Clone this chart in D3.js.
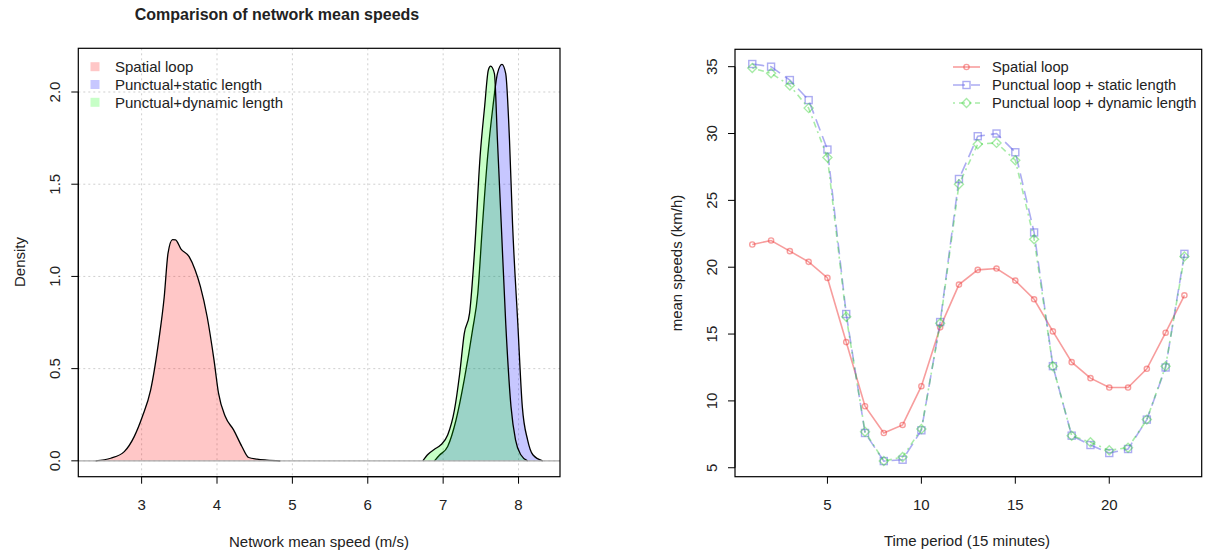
<!DOCTYPE html>
<html>
<head>
<meta charset="utf-8">
<script src="https://cdn.jsdelivr.net/npm/d3@7"></script>
<style>
  body { margin: 0; background: #fff; }
  text { font-family: "Liberation Sans", Arial, sans-serif; fill: #222; }
</style>
</head>
<body>
<div id="chart"></div>
<script>
// ---- left plot: kernel densities ----
const spatialX = [2.39, 2.59, 2.77, 2.90, 3.01, 3.12, 3.23, 3.30, 3.35, 3.41, 3.45, 3.52, 3.63, 3.71, 3.78, 3.87, 3.96, 4.02, 4.11, 4.22, 4.33, 4.42, 4.53, 4.66, 4.84];
const spatialD = [0, 0.014, 0.05, 0.13, 0.24, 0.385, 0.66, 0.89, 1.125, 1.20, 1.198, 1.15, 1.107, 1.035, 0.945, 0.78, 0.547, 0.367, 0.24, 0.168, 0.078, 0.018, 0.009, 0.004, 0];

const staticX = [6.885, 6.95, 7.06, 7.17, 7.28, 7.39, 7.46, 7.52, 7.59, 7.66, 7.72, 7.78, 7.83, 7.88, 7.92, 7.99, 8.05, 8.12, 8.19, 8.32];
const staticD = [0, 0.03, 0.078, 0.22, 0.44, 0.71, 0.91, 1.27, 1.65, 1.92, 2.10, 2.15, 2.10, 1.74, 1.29, 0.746, 0.294, 0.114, 0.033, 0];

const dynamicX = [6.73, 6.80, 6.885, 6.97, 7.06, 7.15, 7.22, 7.28, 7.35, 7.42, 7.49, 7.55, 7.60, 7.63, 7.68, 7.72, 7.77, 7.83, 7.90, 7.96, 8.03, 8.12];
const dynamicD = [0, 0.036, 0.063, 0.087, 0.14, 0.276, 0.475, 0.69, 0.80, 1.16, 1.65, 1.92, 2.12, 2.14, 2.10, 1.74, 1.29, 0.746, 0.294, 0.114, 0.033, 0];

const densNames = ["Spatial loop", "Punctual+static length", "Punctual+dynamic length"];
const densX = [spatialX, staticX, dynamicX];
const densY = [spatialD, staticD, dynamicD];
const speedTicks = [3, 4, 5, 6, 7, 8];
const densTicks = [0, 0.5, 1, 1.5, 2];

// ---- right plot: mean speeds per time period ----
const periods = [1, 2, 3, 4, 5, 6, 7, 8, 9, 10, 11, 12, 13, 14, 15, 16, 17, 18, 19, 20, 21, 22, 23, 24];
const spatialLoop = [21.7, 22.0, 21.2, 20.4, 19.2, 14.4, 9.6, 7.6, 8.2, 11.1, 15.5, 18.7, 19.8, 19.9, 19.0, 17.6, 15.2, 12.9, 11.7, 11.0, 11.0, 12.4, 15.1, 17.9];
const staticLength = [35.2, 35.0, 34.0, 32.5, 28.8, 16.5, 7.6, 5.5, 5.6, 7.8, 15.9, 26.6, 29.8, 30.0, 28.6, 22.6, 12.6, 7.4, 6.7, 6.1, 6.4, 8.6, 12.5, 21.0];
const dynamicLength = [34.9, 34.5, 33.6, 31.9, 28.2, 16.3, 7.7, 5.5, 5.8, 7.9, 15.8, 26.2, 29.2, 29.3, 28.0, 22.1, 12.6, 7.4, 6.9, 6.3, 6.5, 8.6, 12.6, 20.8];
const lineNames = ["Spatial loop", "Punctual loop + static length", "Punctual loop + dynamic length"];
const periodTicks = [5, 10, 15, 20];
const speedKmhTicks = [5, 10, 15, 20, 25, 30, 35];

const W = 1219, H = 554;
const svg = d3.select("#chart").append("svg")
    .attr("width", W)
    .attr("height", H);

// helper to draw an R-style axis (line only spans the ticks)
function bottomAxis(g, scale, ticks, yPos) {
    const a = g.append("g").attr("transform", "translate(0," + yPos + ")");
    a.append("line")
        .attr("x1", scale(ticks[0])).attr("x2", scale(ticks[ticks.length - 1]))
        .attr("stroke", "#000");
    ticks.forEach(function(t) {
        a.append("line").attr("x1", scale(t)).attr("x2", scale(t)).attr("y1", 0).attr("y2", 7).attr("stroke", "#000");
        a.append("text").attr("x", scale(t)).attr("y", 33)
            .attr("text-anchor", "middle").style("font-size", "15px").text(t);
    });
}
function leftAxis(g, scale, ticks, xPos, fmt) {
    const a = g.append("g").attr("transform", "translate(" + xPos + ",0)");
    a.append("line")
        .attr("y1", scale(ticks[0])).attr("y2", scale(ticks[ticks.length - 1]))
        .attr("stroke", "#000");
    ticks.forEach(function(t) {
        a.append("line").attr("y1", scale(t)).attr("y2", scale(t)).attr("x1", 0).attr("x2", -7).attr("stroke", "#000");
        a.append("text")
            .attr("transform", "translate(-18," + scale(t) + ") rotate(-90)")
            .attr("text-anchor", "middle").style("font-size", "15px").text(fmt(t));
    });
}

// ================= left panel =================
const x1 = d3.scaleLinear().domain([2.16, 8.55]).range([78.3, 560]);
const y1 = d3.scaleLinear().domain([-0.086, 2.237]).range([476.7, 48.3]);
const left = svg.append("g");

// grid (dotted)
left.append("g").selectAll("line").data(speedTicks).enter().append("line")
    .attr("x1", d => x1(d)).attr("x2", d => x1(d))
    .attr("y1", y1.range()[1]).attr("y2", y1.range()[0])
    .attr("stroke", "#cfcfcf").attr("stroke-dasharray", "2,3");
left.append("g").selectAll("line").data(densTicks).enter().append("line")
    .attr("y1", d => y1(d)).attr("y2", d => y1(d))
    .attr("x1", x1.range()[0]).attr("x2", x1.range()[1])
    .attr("stroke", "#cfcfcf").attr("stroke-dasharray", "2,3");

const densFill = ["rgba(255,0,0,0.22)", "rgba(0,0,255,0.22)", "rgba(0,255,0,0.22)"];
const area = d3.area().x(d => x1(d[0])).y0(y1(0)).y1(d => y1(d[1])).curve(d3.curveMonotoneX);
const topLine = d3.line().x(d => x1(d[0])).y(d => y1(d[1])).curve(d3.curveMonotoneX);

densX.forEach(function(xs, i) {
    const pts = xs.map((v, j) => [v, densY[i][j]]);
    left.append("path").datum(pts).attr("d", area).attr("fill", densFill[i]);
    left.append("path").datum(pts).attr("d", topLine)
        .attr("fill", "none").attr("stroke", "#000").attr("stroke-width", 1.3);
});

// zero line
left.append("line")
    .attr("x1", x1.range()[0]).attr("x2", x1.range()[1])
    .attr("y1", y1(0)).attr("y2", y1(0))
    .attr("stroke", "#aaa").attr("stroke-width", 1.2);

// box
left.append("rect").attr("x", 78.3).attr("y", 48.3).attr("width", 560 - 78.3).attr("height", 476.7 - 48.3)
    .attr("fill", "none").attr("stroke", "#000").attr("stroke-width", 1.2);

bottomAxis(left, x1, speedTicks, 476.7);
leftAxis(left, y1, densTicks, 78.3, d3.format(".1f"));

// legend
densNames.forEach(function(n, i) {
    const cy = 66.7 + i * 17.8;
    left.append("rect").attr("x", 90.5).attr("y", cy - 4.5).attr("width", 9).attr("height", 9).attr("fill", densFill[i]);
    left.append("text").attr("x", 115).attr("y", cy + 5.3).style("font-size", "15px").text(n);
});

left.append("text").attr("x", 277).attr("y", 20).attr("text-anchor", "middle")
    .style("font-size", "16px").style("font-weight", "bold").text("Comparison of network mean speeds");
left.append("text").attr("x", 319).attr("y", 547).attr("text-anchor", "middle")
    .style("font-size", "15px").text("Network mean speed (m/s)");
left.append("text").attr("transform", "translate(25,262) rotate(-90)").attr("text-anchor", "middle")
    .style("font-size", "15px").text("Density");

// ================= right panel =================
const x2 = d3.scaleLinear().domain([0.08, 24.92]).range([735, 1201.7]);
const y2 = d3.scaleLinear().domain([4.33, 36.3]).range([476.7, 49.3]);
const right = svg.append("g");

const series = [spatialLoop, staticLength, dynamicLength];
const lineCol = ["rgba(240,60,60,0.5)", "rgba(90,90,230,0.5)", "rgba(60,210,60,0.45)"];
const dashes = [null, "12,6", "2,4,6,4"];
const line2 = d3.line().x((d, i) => x2(periods[i])).y(d => y2(d));

function marker(g, kind, cx, cy, col) {
    if (kind === 0) {
        g.append("circle").attr("cx", cx).attr("cy", cy).attr("r", 2.6)
            .attr("fill", "none").attr("stroke", col).attr("stroke-width", 1.4);
    } else if (kind === 1) {
        g.append("rect").attr("x", cx - 3.5).attr("y", cy - 3.5).attr("width", 7).attr("height", 7)
            .attr("fill", "none").attr("stroke", col).attr("stroke-width", 1.4);
    } else {
        g.append("path").attr("d", "M" + cx + "," + (cy - 4.5) + "L" + (cx + 4.5) + "," + cy + "L" + cx + "," + (cy + 4.5) + "L" + (cx - 4.5) + "," + cy + "Z")
            .attr("fill", "none").attr("stroke", col).attr("stroke-width", 1.4);
    }
}

series.forEach(function(s, k) {
    right.append("path").datum(s).attr("d", line2)
        .attr("fill", "none").attr("stroke", lineCol[k]).attr("stroke-width", 1.6)
        .attr("stroke-dasharray", dashes[k]);
    s.forEach(function(v, i) { marker(right, k, x2(periods[i]), y2(v), lineCol[k]); });
});

right.append("rect").attr("x", 735).attr("y", 49.3).attr("width", 1201.7 - 735).attr("height", 476.7 - 49.3)
    .attr("fill", "none").attr("stroke", "#000").attr("stroke-width", 1.2);

bottomAxis(right, x2, periodTicks, 476.7);
leftAxis(right, y2, speedKmhTicks, 735, d3.format("d"));

// legend
lineNames.forEach(function(n, i) {
    const cy = 67 + i * 18;
    right.append("line").attr("x1", 953).attr("x2", 980).attr("y1", cy).attr("y2", cy)
        .attr("stroke", lineCol[i]).attr("stroke-width", 1.6).attr("stroke-dasharray", dashes[i]);
    marker(right, i, 966.5, cy, lineCol[i]);
    right.append("text").attr("x", 992).attr("y", cy + 5.3).style("font-size", "14.7px").text(n);
});

right.append("text").attr("x", 967).attr("y", 546).attr("text-anchor", "middle")
    .style("font-size", "15px").text("Time period (15 minutes)");
right.append("text").attr("transform", "translate(682,263) rotate(-90)").attr("text-anchor", "middle")
    .style("font-size", "15px").text("mean speeds (km/h)");
</script>
</body>
</html>
